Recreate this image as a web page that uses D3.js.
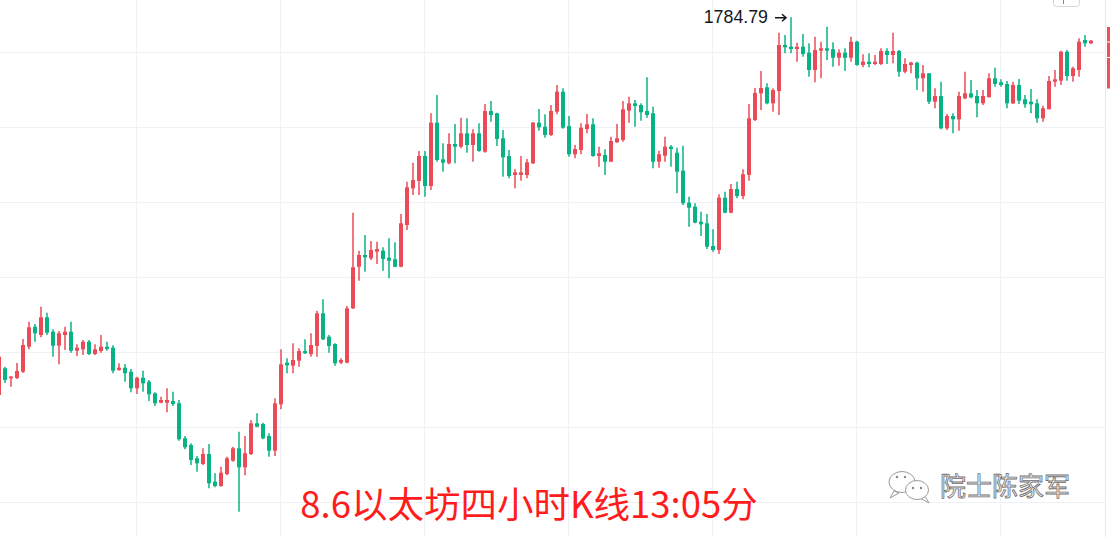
<!DOCTYPE html>
<html>
<head>
<meta charset="utf-8">
<script src="https://cdn.jsdelivr.net/npm/d3@7"></script>
<style>
  html, body { margin: 0; padding: 0; background: #fff; overflow: hidden; }
  svg { display: block; }
</style>
</head>
<body>
<div id="chart"></div>
<script>
// 4h candles (price = open / high / low / close)
const openP = [
  1407, 1433.7, 1423.7, 1424, 1430.3, 1455.3, 1475.3, 1467, 1484.7, 1470.3,
  1456.3, 1467, 1470.3, 1451.3, 1452.7, 1460.3, 1448, 1451, 1455.3, 1454.3,
  1432, 1434.3, 1430.3, 1413.7, 1424.3, 1420.3, 1408.7, 1399.3, 1399.3, 1401,
  1398.7, 1363.7, 1357, 1343.7, 1338, 1348, 1320.3, 1316, 1328, 1341.3,
  1353.7, 1334.7, 1348, 1378.7, 1378, 1366, 1351.3, 1397.7, 1439.3, 1436.3,
  1441.3, 1451, 1448, 1456, 1488.7, 1465.3, 1458, 1439.3, 1439.3, 1493.7,
  1535.3, 1547, 1543.7, 1550.3, 1551.3, 1544.3, 1542.7, 1535.3, 1577, 1613.7,
  1621, 1646, 1616, 1679.3, 1642.7, 1638.7, 1658, 1655.3, 1668.7, 1657,
  1668.7, 1650.3, 1691, 1688.7, 1663.7, 1646, 1627, 1627, 1627, 1638.7,
  1679.3, 1675.3, 1667, 1690.3, 1710.3, 1676, 1647.7, 1652, 1673, 1677.7,
  1646, 1647, 1640.3, 1659.7, 1662, 1691.3, 1698.7, 1697, 1691, 1688.7,
  1640.3, 1646.3, 1655.3, 1649.3, 1631.3, 1599.3, 1595.3, 1580.3, 1578.7, 1556,
  1552, 1604.3, 1589.3, 1613, 1606, 1627, 1682, 1708.7, 1714.7, 1698.7,
  1711, 1757, 1755.3, 1753, 1755.3, 1749.3, 1732, 1751.3, 1753.7, 1752.7,
  1744.3, 1749.3, 1744.3, 1760.3, 1737, 1740.3, 1738, 1738, 1751, 1747,
  1751, 1730.3, 1737, 1739.3, 1723.7, 1728.7, 1700.3, 1706, 1673.7, 1686,
  1682.7, 1703.7, 1708.7, 1706, 1698.7, 1704.7, 1723.7, 1719.7, 1718, 1698.7,
  1717, 1702.7, 1700.3, 1698.7, 1683.7, 1692.7, 1720.3, 1721.3, 1750.3, 1726,
  1732, 1762, 1758.7
];
const highP = [
  1446, 1435.3, 1426, 1439, 1463, 1480.3, 1478, 1495.3, 1489.3, 1472.7,
  1471, 1475.3, 1480.3, 1457.7, 1462, 1462, 1457.7, 1467, 1460.3, 1456.7,
  1438.7, 1438, 1433, 1425.3, 1431.3, 1422, 1409.7, 1405.3, 1413.7, 1410.3,
  1402, 1366, 1358.7, 1346, 1353.7, 1358, 1328.7, 1335.3, 1345.3, 1355.3,
  1370.3, 1366, 1382, 1388.7, 1379.3, 1368.7, 1403.7, 1452.7, 1443.7, 1458.7,
  1453.7, 1462.7, 1468.7, 1491.3, 1502.7, 1467, 1458.7, 1443.7, 1496, 1589.3,
  1551.3, 1567, 1561, 1560.3, 1554.7, 1563.7, 1559.7, 1588, 1620.3, 1639.3,
  1651, 1651, 1688.7, 1707, 1658.7, 1668.7, 1678, 1684.3, 1683.7, 1672.7,
  1678.7, 1698, 1701, 1689.3, 1672, 1652, 1633, 1646, 1643, 1680,
  1693, 1687.7, 1697, 1717, 1713.7, 1686, 1657, 1678.7, 1688, 1683.7,
  1655.3, 1652.7, 1665.3, 1678, 1701, 1705.3, 1702, 1698.7, 1724.7, 1695.3,
  1651.3, 1665.3, 1657, 1654.3, 1656.3, 1605.3, 1598.7, 1590.3, 1588, 1572.7,
  1607.7, 1610.3, 1618, 1620.3, 1632.7, 1698, 1714, 1731, 1718.7, 1713.7,
  1769.3, 1767, 1784.79, 1759.3, 1768, 1758.7, 1765.3, 1760.3, 1775.3, 1759.7,
  1752.7, 1753.7, 1765.3, 1761.3, 1747.7, 1748.7, 1747, 1753.7, 1753.7, 1769.3,
  1752, 1743.7, 1740.3, 1740.3, 1737, 1729, 1713.7, 1720.3, 1688, 1688.7,
  1710.3, 1730.3, 1722, 1712, 1712, 1728.7, 1734.3, 1722.7, 1721, 1720.3,
  1723, 1707, 1713, 1702.7, 1696.3, 1726, 1732, 1751.3, 1752, 1735.3,
  1763.7, 1767, 1762
];
const lowP = [
  1405, 1419, 1415.3, 1423, 1429, 1452.7, 1460.3, 1464.7, 1467, 1445.3,
  1437.7, 1452, 1449.3, 1446, 1447, 1447, 1447, 1449.3, 1451.3, 1428.7,
  1431.3, 1420.3, 1409.7, 1408, 1410.3, 1401, 1396, 1398.7, 1389.7, 1396,
  1361.3, 1352.7, 1337, 1330.3, 1337, 1313.7, 1314.7, 1315.3, 1326.7, 1340.3,
  1290.3, 1326.7, 1347, 1374.7, 1362.7, 1345.3, 1346, 1392.7, 1428.7, 1428.7,
  1435.3, 1448, 1445.3, 1445.3, 1462, 1449.3, 1436.3, 1438, 1438.7, 1493,
  1521.3, 1530.3, 1542, 1538, 1531.3, 1523.7, 1534.7, 1534.7, 1572, 1607,
  1607, 1605.3, 1612, 1640.3, 1630.3, 1637.7, 1638.7, 1653.7, 1649.3, 1640.3,
  1650.3, 1649.3, 1680.3, 1656, 1625.3, 1623.7, 1613.7, 1621.3, 1623.7, 1638,
  1671.3, 1664.3, 1666, 1687.7, 1673.3, 1645.3, 1643.7, 1647.7, 1668.7, 1645.3,
  1635.3, 1627, 1640, 1659.3, 1660.3, 1679.3, 1675.3, 1681.3, 1684.3, 1633.7,
  1634.3, 1640.3, 1635.3, 1608.7, 1597, 1575.3, 1578.7, 1566, 1553, 1550.3,
  1548, 1588.7, 1588.7, 1603.7, 1602.7, 1621.3, 1681, 1692, 1697.7, 1690.3,
  1687, 1748.7, 1748.7, 1740.3, 1745.3, 1725.3, 1719.7, 1723.7, 1742, 1735.3,
  1736.3, 1731, 1740.3, 1736.3, 1734.7, 1734.7, 1737, 1737, 1738, 1738.7,
  1725.3, 1728.7, 1728.7, 1712, 1710.3, 1698, 1693.7, 1672.7, 1672, 1668.7,
  1671.3, 1702.7, 1703.7, 1684.7, 1697, 1704.7, 1715.3, 1715.3, 1693.7, 1698,
  1698, 1694.3, 1688.7, 1679.3, 1680.3, 1692.7, 1715.3, 1717, 1721.3, 1720.3,
  1725.3, 1755.3, 1758
];
const closeP = [
  1445.3, 1422, 1425.3, 1431, 1457, 1474.7, 1468.7, 1484.7, 1469.3, 1456.3,
  1468.7, 1470.3, 1451.3, 1454.3, 1460.3, 1448, 1452.7, 1455.3, 1453, 1431.3,
  1434.3, 1428.7, 1413.7, 1424.3, 1418.7, 1407.7, 1398.7, 1402, 1402, 1398,
  1362.7, 1354.7, 1342, 1338.7, 1348, 1318.7, 1316, 1329.3, 1343.7, 1353.7,
  1334.7, 1348.7, 1378.7, 1375.3, 1363.7, 1351.3, 1398.7, 1437.7, 1436.7, 1442,
  1451, 1448.7, 1457, 1488.7, 1462.7, 1456, 1438.7, 1442, 1493.7, 1534.7,
  1547, 1544.7, 1552, 1553, 1543, 1541.3, 1535.3, 1578.7, 1614.7, 1622,
  1646, 1616, 1679.3, 1642, 1639.3, 1658, 1655.3, 1668.7, 1657, 1668.7,
  1651, 1691, 1687, 1663, 1644.7, 1626, 1629.7, 1629.7, 1639.7, 1679.3,
  1674.7, 1667, 1691, 1710.3, 1674.3, 1647.7, 1653, 1674.3, 1677.7, 1646,
  1648.7, 1640.3, 1661, 1663.7, 1692.7, 1698.7, 1696, 1689.7, 1687, 1640.3,
  1647.7, 1655.3, 1653, 1630.3, 1598.7, 1594.3, 1579.3, 1577.7, 1555.3, 1552,
  1604.3, 1589.3, 1613, 1606, 1627.7, 1683.7, 1709, 1714, 1698.7, 1712,
  1757, 1754.7, 1753, 1755.3, 1748, 1732, 1752, 1753.7, 1751.3, 1744.3,
  1749.3, 1744.3, 1760.3, 1737, 1740.3, 1738, 1740.3, 1751, 1747, 1751,
  1730.3, 1738, 1739.3, 1723.7, 1728.7, 1700.3, 1706, 1673.7, 1686, 1682.7,
  1706, 1708.7, 1704.7, 1698.7, 1706, 1723.7, 1718, 1717, 1698.7, 1717,
  1701.3, 1697.7, 1697.7, 1683.7, 1693.7, 1721, 1722.7, 1750.3, 1726, 1733.7,
  1760.3, 1758.7, 1761.3
];

const gridPrices = [1750, 1675, 1600, 1525, 1450, 1375, 1300];
const gridCandles = [23, 47, 71, 95, 119, 143, 167];
const highIndex = 132;
const titleText = "8.6以太坊四小时K线13:05分";
const watermarkText = "院士陈家军";

const width = 1110;
const height = 537;
const upColor = "#eb4b57";
const downColor = "#08b383";

const candles = openP.map((o, i) => ({
  i, o, h: highP[i], l: lowP[i], c: closeP[i]
}));

const svg = d3.select("#chart")
  .append("svg")
  .attr("width", width)
  .attr("height", height);

const x = d3.scaleLinear().domain([0, 182]).range([-1, 1091]);
const y = d3.scaleLinear().domain([1802, 1265]).range([0, 537]);

// grid
svg.append("g")
  .selectAll("line")
  .data(gridPrices)
  .enter()
  .append("line")
  .attr("x1", 0)
  .attr("x2", 1105)
  .attr("y1", (d) => Math.round(y(d)) + 0.5)
  .attr("y2", (d) => Math.round(y(d)) + 0.5)
  .attr("stroke", "#f0f1f4");

svg.append("g")
  .selectAll("line")
  .data(gridCandles)
  .enter()
  .append("line")
  .attr("x1", (d) => Math.round(x(d)) - 0.5)
  .attr("x2", (d) => Math.round(x(d)) - 0.5)
  .attr("y1", 0)
  .attr("y2", height)
  .attr("stroke", "#f0f1f4");

// candles
const g = svg.append("g")
  .selectAll("g")
  .data(candles)
  .enter()
  .append("g")
  .attr("fill", (d) => (d.c >= d.o ? upColor : downColor))
  .attr("stroke", (d) => (d.c >= d.o ? upColor : downColor));

g.append("line")
  .attr("x1", (d) => x(d.i))
  .attr("x2", (d) => x(d.i))
  .attr("y1", (d) => y(d.h))
  .attr("y2", (d) => y(d.l))
  .attr("stroke-width", 1.5);

g.append("rect")
  .attr("x", (d) => x(d.i) - 2)
  .attr("width", 4)
  .attr("y", (d) => y(Math.max(d.o, d.c)))
  .attr("height", (d) => Math.max(1.5, Math.abs(y(d.o) - y(d.c))))
  .attr("stroke", "none");

// high marker
const hx = x(highIndex);
const hy = y(highP[highIndex]);
svg.append("text")
  .attr("x", hx - 23)
  .attr("y", hy + 6)
  .attr("text-anchor", "end")
  .attr("font-family", "Liberation Sans, Arial, sans-serif")
  .attr("font-size", 17.8)
  .attr("fill", "#131722")
  .text(highP[highIndex].toFixed(2));

svg.append("path")
  .attr("d", `M${hx - 16},${hy + 0.5}H${hx - 5}M${hx - 9},${hy - 3}L${hx - 5},${hy + 0.5}L${hx - 9},${hy + 4}`)
  .attr("fill", "none")
  .attr("stroke", "#131722")
  .attr("stroke-width", 1.5);

// price scale edge (cut off at the right)
svg.append("line")
  .attr("x1", 1105.5).attr("x2", 1105.5)
  .attr("y1", 0).attr("y2", height)
  .attr("stroke", "#e6e8ee");

svg.append("g")
  .selectAll("rect")
  .data([[27, 41.5], [42.5, 57], [58, 88.5]])
  .enter()
  .append("rect")
  .attr("x", 1107)
  .attr("width", 6)
  .attr("y", (d) => d[0])
  .attr("height", (d) => d[1] - d[0])
  .attr("fill", "#ef4e5b");

// small button at top right
svg.append("rect")
  .attr("x", 1053.5).attr("y", -8.5)
  .attr("width", 26).attr("height", 15)
  .attr("rx", 3)
  .attr("fill", "#fff")
  .attr("stroke", "#d6d8de");
svg.append("line")
  .attr("x1", 1063.5).attr("x2", 1063.5)
  .attr("y1", 0).attr("y2", 4)
  .attr("stroke", "#888");

// title
svg.append("text")
  .attr("x", 529)
  .attr("y", 518)
  .attr("text-anchor", "middle")
  .attr("font-family", "Noto Sans CJK SC, sans-serif")
  .attr("font-size", 36.5)
  .attr("fill", "#ff1c1c")
  .text(titleText);

// watermark
const wm = svg.append("g").attr("fill", "#fff").attr("stroke", "#9a9a9a").attr("stroke-width", 1);
wm.append("path")
  .attr("d", "M894,491 L890,498 L899,493 Z");
wm.append("ellipse").attr("cx", 902).attr("cy", 482).attr("rx", 13).attr("ry", 10.5);
wm.append("path")
  .attr("d", "M925,496 L929,503 L920,498 Z");
wm.append("ellipse").attr("cx", 917).attr("cy", 490).attr("rx", 11.5).attr("ry", 9.5);
[[897, 477], [905, 477], [913, 488], [921, 488]].forEach(([cx, cy]) => {
  svg.append("circle").attr("cx", cx).attr("cy", cy).attr("r", 1.2).attr("fill", "#888");
});

svg.append("text")
  .attr("x", 940)
  .attr("y", 496)
  .attr("font-family", "Noto Sans CJK SC, sans-serif")
  .attr("font-size", 26)
  .attr("fill", "#f5f5f5")
  .attr("stroke", "#707070")
  .attr("stroke-width", 0.8)
  .text(watermarkText);
</script>
</body>
</html>
